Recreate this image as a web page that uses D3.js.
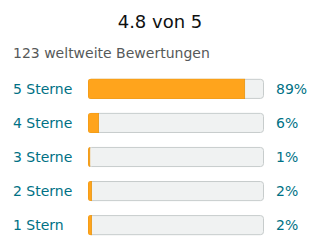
<!DOCTYPE html>
<html>
<head>
<meta charset="utf-8">
<script src="https://cdn.jsdelivr.net/npm/d3@7"></script>
<style>
  body { margin: 0; background: #fff; }
  text { font-family: "DejaVu Sans", sans-serif; }
</style>
</head>
<body>
<div class="chart"></div>
<script>
// rating data
var titleText = "4.8 von 5";
var subtitleText = "123 weltweite Bewertungen";
var stars = ["5 Sterne", "4 Sterne", "3 Sterne", "2 Sterne", "1 Stern"];
var percents = [89, 6, 1, 2, 2];

var W = 320, H = 252;
var barLeft = 88, barRight = 264;

var svg = d3.select(".chart").append("svg")
    .attr("width", W)
    .attr("height", H);

svg.append("text")
    .attr("x", W / 2)
    .attr("y", 28)
    .attr("text-anchor", "middle")
    .attr("font-size", 18)
    .attr("fill", "#0f1111")
    .text(titleText);

svg.append("text")
    .attr("x", 13)
    .attr("y", 58)
    .attr("font-size", 14)
    .attr("fill", "#565959")
    .text(subtitleText);

var y = d3.scaleBand()
    .domain(stars)
    .range([72, 242])
    .paddingInner(0.41)
    .paddingOuter(0.2);

var x = d3.scaleLinear()
    .domain([0, 100])
    .range([barLeft, barRight]);

var rows = svg.selectAll(".row")
    .data(stars)
    .enter()
    .append("g")
    .attr("class", "row");

// background track
rows.append("rect")
    .attr("x", x(0) + 0.5)
    .attr("y", function (d) { return y(d) + 0.5; })
    .attr("width", x(100) - x(0) - 1)
    .attr("height", y.bandwidth() - 1)
    .attr("rx", 3)
    .attr("fill", "#f0f2f2")
    .attr("stroke", "#c7cccc");

// clip for filled part so the rounded end follows the track
svg.append("defs").selectAll("clipPath")
    .data(stars)
    .enter()
    .append("clipPath")
    .attr("id", function (d, i) { return "clip" + i; })
    .append("rect")
    .attr("x", x(0))
    .attr("y", function (d) { return y(d); })
    .attr("width", x(100) - x(0))
    .attr("height", y.bandwidth())
    .attr("rx", 3);

rows.append("rect")
    .attr("clip-path", function (d, i) { return "url(#clip" + i + ")"; })
    .attr("x", x(0))
    .attr("y", function (d) { return y(d); })
    .attr("width", function (d, i) { return x(percents[i]) - x(0); })
    .attr("height", y.bandwidth())
    .attr("fill", "#ffa41c")
    .attr("stroke", "#e89512")
    .attr("stroke-width", 0.8);

rows.append("text")
    .attr("x", 13)
    .attr("y", function (d) { return y(d) + y.bandwidth() / 2; })
    .attr("dy", "0.36em")
    .attr("font-size", 14)
    .attr("fill", "#007185")
    .text(function (d) { return d; });

rows.append("text")
    .attr("x", 276)
    .attr("y", function (d) { return y(d) + y.bandwidth() / 2; })
    .attr("dy", "0.36em")
    .attr("font-size", 14)
    .attr("fill", "#007185")
    .text(function (d, i) { return percents[i] + "%"; });
</script>
</body>
</html>
